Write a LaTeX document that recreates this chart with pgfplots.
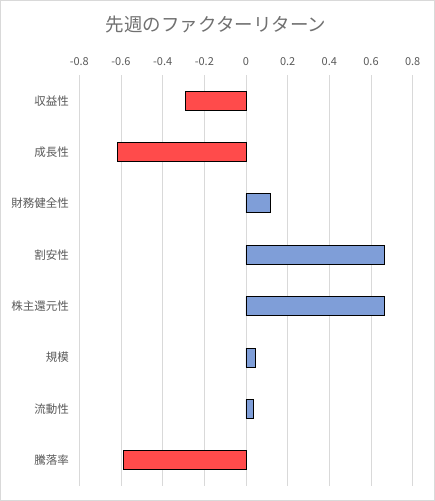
\documentclass[border=0pt]{standalone}
\usepackage{pgfplots}
\pgfplotsset{compat=1.18}
\usepackage{fontspec}
\setmainfont{Noto Sans CJK JP}
\definecolor{barred}{RGB}{255,75,75}
\definecolor{barblue}{RGB}{127,158,216}
\definecolor{gridgray}{RGB}{217,217,217}
\definecolor{txtgray}{RGB}{89,89,89}
\definecolor{titlegray}{RGB}{112,112,112}
\begin{document}
\begin{tikzpicture}
\draw[gridgray, line width=1bp] (0.5bp,-0.5bp) rectangle (434.5bp,-500.5bp);
\node[titlegray, font=\fontsize{18.5bp}{20bp}\selectfont] at (216bp,-25bp) {先週のファクターリターン};
\begin{axis}[
  at={(79.3bp,-75bp)}, anchor=north west,
  scale only axis, width=333.4bp, height=411bp,
  xmin=-0.8, xmax=0.8, ymin=-0.5, ymax=7.5,
  y dir=reverse,
  xtick={-0.8,-0.6,-0.4,-0.2,0,0.2,0.4,0.6,0.8},
  xticklabels={-0.8,-0.6,-0.4,-0.2,0,0.2,0.4,0.6,0.8},
  xticklabel pos=upper,
  ytick={0,1,2,3,4,5,6,7},
  yticklabels={収益性,成長性,財務健全性,割安性,株主還元性,規模,流動性,騰落率},
  axis line style={draw=none},
  major tick length=0pt,
  tick style={draw=none},
  xmajorgrids,
  grid style={gridgray, line width=0.8bp},
  xticklabel style={txtgray, font=\fontsize{11bp}{12bp}\selectfont, yshift=6bp},
  yticklabel style={txtgray, font=\fontsize{11.5bp}{12bp}\selectfont, xshift=-7bp},
  /pgf/number format/assume math mode=true,
  clip=false,
]
\addplot[xbar, bar width=19bp, bar shift=0pt, fill=barred, draw=black, line width=0.9bp]
  coordinates {(-0.29,0) (-0.618,1) (-0.589,7)};
\addplot[xbar, bar width=19bp, bar shift=0pt, fill=barblue, draw=black, line width=0.9bp]
  coordinates {(0.118,2) (0.664,3) (0.664,4) (0.045,5) (0.035,6)};
\end{axis}
\end{tikzpicture}
\end{document}
